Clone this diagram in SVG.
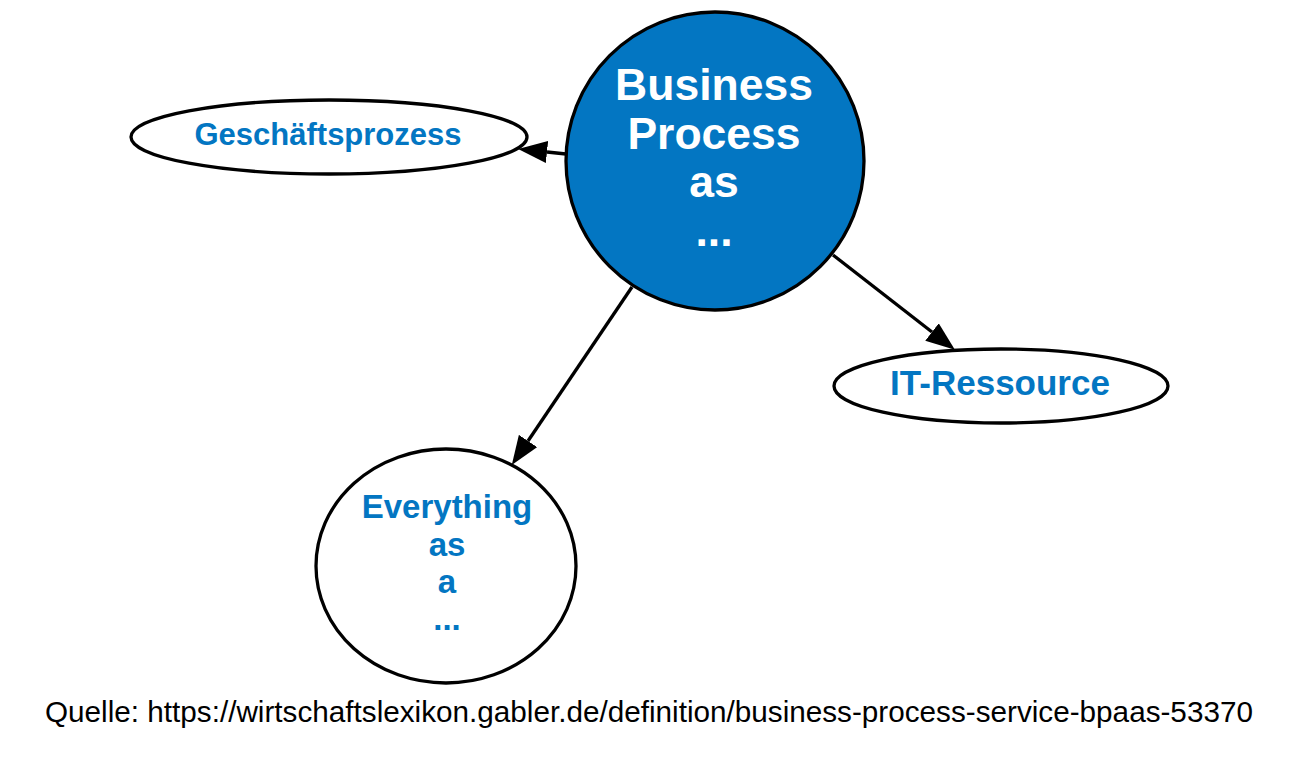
<svg xmlns="http://www.w3.org/2000/svg" width="1300" height="761" viewBox="0 0 1300 761">
<style>
.node{fill:#fff;stroke:#000;stroke-width:3.3}
.main{fill:#0376c2;stroke:#000;stroke-width:3.3}
.lbl{font-family:"Liberation Sans",Arial,sans-serif;font-weight:bold;fill:#0376c2;text-anchor:middle}
.wl{font-family:"Liberation Sans",Arial,sans-serif;font-weight:bold;fill:#fff;text-anchor:middle;font-size:44.5px}
.edge{stroke:#000;stroke-width:3.3;fill:none;marker-end:url(#ah)}
.src{font-family:"Liberation Sans",Arial,sans-serif;font-size:29.7px;fill:#000}
</style>
<defs>
<marker id="ah" viewBox="0 0 29 22" refX="0" refY="11" markerWidth="29" markerHeight="22" orient="auto" markerUnits="userSpaceOnUse">
<path d="M0,0 L29,11 L0,22 z" fill="#000"/>
</marker>
</defs>
<rect width="1300" height="761" fill="#fff"/>
<g id="connectors">
<line class="edge" x1="566" y1="154" x2="547" y2="152"/>
<line class="edge" x1="632" y1="287" x2="528" y2="441"/>
<line class="edge" x1="833" y1="255" x2="932" y2="332"/>
</g>
<g id="bpaas">
<circle class="main" cx="715" cy="161" r="149"/>
<text class="wl" x="714" y="100">Business</text>
<text class="wl" x="714" y="149">Process</text>
<text class="wl" x="714" y="197">as</text>
<text class="wl" x="714" y="246">...</text>
</g>
<g id="geschaeftsprozess">
<ellipse class="node" cx="329" cy="137" rx="198" ry="37"/>
<text class="lbl" x="328" y="145" font-size="31">Geschäftsprozess</text>
</g>
<g id="it-ressource">
<ellipse class="node" cx="1001" cy="386" rx="167" ry="37"/>
<text class="lbl" x="1000" y="395" font-size="35">IT-Ressource</text>
</g>
<g id="everything">
<ellipse class="node" cx="446" cy="566" rx="130" ry="117"/>
<text class="lbl" x="447" y="518" font-size="33">Everything</text>
<text class="lbl" x="447" y="556" font-size="33">as</text>
<text class="lbl" x="447" y="593" font-size="33">a</text>
<text class="lbl" x="447" y="630" font-size="33">...</text>
</g>
<text class="src" x="45" y="722">Quelle: https://wirtschaftslexikon.gabler.de/definition/business-process-service-bpaas-53370</text>
</svg>
